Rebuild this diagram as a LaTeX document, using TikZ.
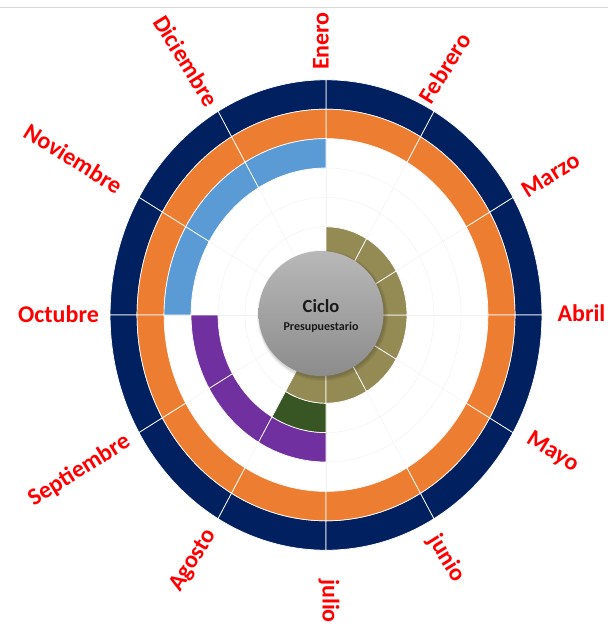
\documentclass[tikz,border=0pt]{standalone}
\usepackage{fontspec}
\setmainfont{Carlito}
\definecolor{navy}{HTML}{002060}
\definecolor{orng}{HTML}{ED7D31}
\definecolor{lblue}{HTML}{5B9BD5}
\definecolor{purp}{HTML}{7030A0}
\definecolor{dgreen}{HTML}{375623}
\definecolor{tanc}{HTML}{948A54}
\definecolor{labred}{HTML}{FF0000}
\definecolor{gtop}{RGB}{184,184,184}
\definecolor{gbot}{RGB}{140,140,140}
\newcommand\ringseg[5]{\filldraw[fill=#1, seg] (#2:#5) arc[start angle=#2, end angle=#3, radius=#5] -- (#3:#4) arc[start angle=#3, end angle=#2, radius=#4] -- cycle;}
\begin{document}
\begin{tikzpicture}[x=1pt,y=-1pt,
  lab/.style={text=labred, font=\fontsize{24}{24}\selectfont\bfseries, inner sep=0pt},
  seg/.style={draw=white, line width=0.7pt},
  gridline/.style={draw=black!5, line width=0.5pt},
  topline/.style={draw=black!15, line width=0.8pt}]
\useasboundingbox (0,0) rectangle (608,627);
\draw[topline] (0,7) -- (608,7);
\begin{scope}[shift={(326,315)}, x=0.918pt, y=1pt]
  \foreach \r in {88.2,117.6,147,176.4}{
    \draw[gridline] (0,0) circle[radius=\r];}
  \foreach \a in {0,30,...,330}{
    \draw[gridline] (\a:58.8) -- (\a:176.4);}
  \foreach \a [evaluate=\a as \b using \a+30] in {0,30,...,330} {
    \ringseg{navy}{\a}{\b}{205.8}{235.2}
    \ringseg{orng}{\a}{\b}{176.4}{205.8}
  }
  \foreach \a [evaluate=\a as \b using \a+30] in {90,120,150}{
    \ringseg{lblue}{\a}{\b}{147}{176.4}}
  \foreach \a [evaluate=\a as \b using \a+30] in {180,210,240}{
    \ringseg{purp}{\a}{\b}{117.6}{147}}
  \ringseg{dgreen}{-120}{-90}{88.2}{117.6}
  \foreach \a [evaluate=\a as \b using \a+30] in {-120,-90,-60,-30,0,30,60}{
    \ringseg{tanc}{\a}{\b}{58.8}{88.2}}
\end{scope}
% centre disc with soft shadow
\fill[black, opacity=0.04] (322.5,315.5) circle[radius=65.5];
\fill[black, opacity=0.06] (322.5,315.5) circle[radius=64.5];
\fill[black, opacity=0.08] (322,315) circle[radius=63.5];
\shade[top color=gtop, bottom color=gbot] (321,313.5) circle[radius=62.5];
\node[font=\fontsize{18.5}{18.5}\selectfont\bfseries, text=black!90, inner sep=0pt] (ciclo) at (321,306.5) {Ciclo};
\node[font=\fontsize{12}{12}\selectfont\bfseries, text=black!90, inner sep=0pt] (presu) at (321,327.5) {Presupuestario};
% month labels
\node[lab, rotate=90]  (enero) at (321,41) {Enero};
\node[lab, rotate=58]  (febrero) at (444.5,68) {Febrero};
\node[lab, rotate=32]  (marzo) at (550.5,175) {Marzo};
\node[lab]             (abril) at (581.5,313.5) {Abril};
\node[lab, rotate=-32] (mayo) at (552.5,452) {Mayo};
\node[lab, rotate=-58] (junio) at (446.7,558.5) {junio};
\node[lab, rotate=-90] (julio) at (329,601) {julio};
\node[lab, rotate=58]  (agosto) at (193.5,560.5) {Agosto};
\node[lab, rotate=32]  (septiembre) at (79.3,470.5) {Septiembre};
\node[lab]             (octubre) at (58.5,314) {Octubre};
\node[lab, rotate=-32] (noviembre) at (73.3,158.5) {Noviembre};
\node[lab, rotate=-58] (diciembre) at (186.5,60.8) {Diciembre};
\end{tikzpicture}
\end{document}
